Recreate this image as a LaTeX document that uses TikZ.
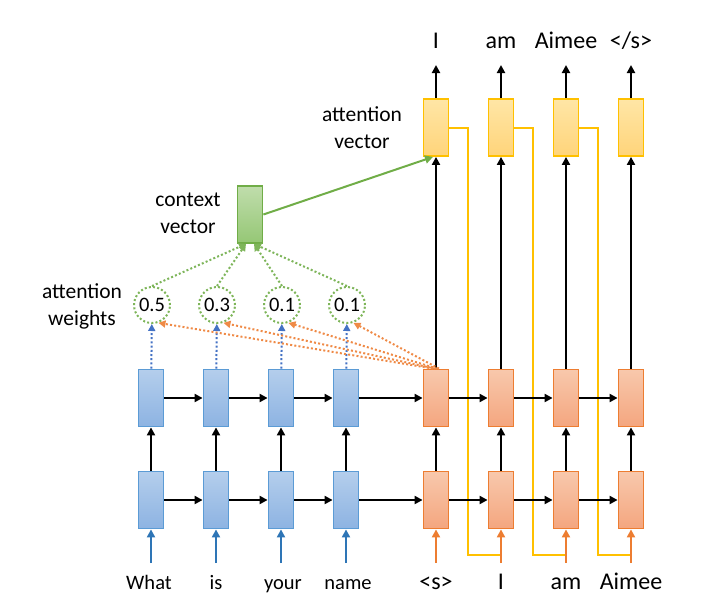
\documentclass[tikz,border=0pt]{standalone}
\usepackage{fontspec}
\setmainfont{Carlito}
\usetikzlibrary{arrows.meta}
\definecolor{bBorder}{HTML}{5B9BD5}
\definecolor{bTop}{HTML}{B4CEEC}
\definecolor{bBot}{HTML}{8DB3E2}
\definecolor{oBorder}{HTML}{ED7D31}
\definecolor{oTop}{HTML}{F8C8AC}
\definecolor{oBot}{HTML}{F4A67F}
\definecolor{yBorder}{HTML}{FFC000}
\definecolor{yTop}{HTML}{FFE6A6}
\definecolor{yBot}{HTML}{FFD47A}
\definecolor{gBorder}{HTML}{70AD47}
\definecolor{gTop}{HTML}{C0DDAC}
\definecolor{gBot}{HTML}{95C775}
\definecolor{dotBlue}{HTML}{4472C4}
\definecolor{inBlue}{HTML}{2E75B6}
\begin{document}
\begin{tikzpicture}[x=1pt,y=-1pt,
  cell/.style={rectangle,minimum width=25pt,minimum height=57pt,inner sep=0pt,line width=1.8pt},
  enc/.style={cell,draw=bBorder,top color=bTop,bottom color=bBot},
  dec/.style={cell,draw=oBorder,top color=oTop,bottom color=oBot},
  att/.style={cell,draw=yBorder,top color=yTop,bottom color=yBot},
  ctx/.style={cell,draw=gBorder,top color=gTop,bottom color=gBot},
  wcirc/.style={circle,minimum size=36pt,inner sep=0pt,draw=gBorder!90,line width=2pt,dash pattern=on 2pt off 2.2pt,font=\fontsize{20.5}{24}\selectfont},
  tip/.style={-{Triangle[length=8pt,width=8pt]}},
  blk/.style={tip,line width=2pt,black},
  inb/.style={tip,line width=2pt,inBlue},
  ino/.style={tip,line width=2pt,oBorder},
  yline/.style={line width=2pt,yBorder},
  garr/.style={tip,line width=2pt,gBorder},
  gdot/.style={-{Triangle[length=7pt,width=7pt]},line width=2pt,gBorder!90,dash pattern=on 2pt off 2.2pt},
  bdot/.style={-{Triangle[length=7pt,width=7pt]},line width=2pt,dotBlue,dash pattern=on 2pt off 2.2pt},
  odot/.style={-{Triangle[length=7pt,width=7pt]},line width=2pt,oBorder!90,dash pattern=on 2pt off 2.2pt},
  encl/.style={font=\fontsize{20.5}{24}\selectfont,anchor=base,inner sep=0pt},
  decl/.style={font=\fontsize{24}{28}\selectfont,anchor=base,inner sep=0pt},
  sidel/.style={font=\fontsize{21.5}{27}\selectfont,align=center}
]
\useasboundingbox (0,0) rectangle (721,611);

% encoder cells
\foreach \i/\x in {1/151,2/216,3/281,4/346}{
  \node[enc] (e\i t) at (\x,398) {};
  \node[enc] (e\i b) at (\x,500) {};
  \coordinate (ie\i) at (\x,563);
}
% decoder cells
\foreach \i/\x in {1/436,2/501,3/566,4/631}{
  \node[dec] (d\i t) at (\x,398) {};
  \node[dec] (d\i b) at (\x,500) {};
  \node[att] (a\i) at (\x,127.5) {};
  \coordinate (id\i) at (\x,563);
  \coordinate (j\i) at (\x,555);
  \coordinate (o\i) at (\x,65);
}
% context vector
\node[ctx] (c) at (250,214.5) {};

% attention weights
\node[wcirc] (w1) at (152,305) {0.5};
\node[wcirc] (w2) at (217,305) {0.3};
\node[wcirc] (w3) at (282,305) {0.1};
\node[wcirc] (w4) at (347,305) {0.1};

% labels
\node[encl] (l1) at (149,589) {What};
\node[encl] (l2) at (216,589) {is};
\node[encl] (l3) at (283,589) {your};
\node[encl] (l4) at (348,589) {name};
\node[decl] (l5) at (436,589) {<s>};
\node[decl] (l6) at (501,589) {I};
\node[decl] (l7) at (566,589) {am};
\node[decl] (l8) at (631,589) {Aimee};
\node[decl] (t1) at (436,48) {I};
\node[decl] (t2) at (501,48) {am};
\node[decl] (t3) at (566,48) {Aimee};
\node[decl] (t4) at (631,48) {</s>};
\node[sidel] (s1) at (362,128) {attention\\vector};
\node[sidel] (s2) at (188,213) {context\\vector};
\node[sidel] (s3) at (82,306) {attention\\weights};

% yellow feedback lines
\draw[yline] (a1.east) -- ++(19,0) |- (j2);
\draw[yline] (a2.east) -- ++(19,0) |- (j3);
\draw[yline] (a3.east) -- ++(19,0) |- (j4);

% horizontal recurrent arrows
\foreach \r in {t,b}{
  \draw[blk] (e1\r) -- (e2\r);
  \draw[blk] (e2\r) -- (e3\r);
  \draw[blk] (e3\r) -- (e4\r);
  \draw[blk] (e4\r) -- (d1\r);
  \draw[blk] (d1\r) -- (d2\r);
  \draw[blk] (d2\r) -- (d3\r);
  \draw[blk] (d3\r) -- (d4\r);
}
% vertical arrows
\foreach \i in {1,2,3,4}{
  \draw[blk] (e\i b) -- (e\i t);
  \draw[blk] (d\i b) -- (d\i t);
  \draw[blk] (d\i t) -- (a\i);
  \draw[blk] (a\i) -- (o\i);
  \draw[inb] (ie\i) -- (e\i b);
  \draw[ino] (id\i) -- (d\i b);
  \draw[bdot] (e\i t) -- (w\i);
}
% orange attention score arrows
\draw[odot] ([xshift=-3pt]d1t.north) -- (w1.-70);
\draw[odot] ([xshift=-1pt]d1t.north) -- (w2.-70);
\draw[odot] ([xshift=1pt]d1t.north) -- (w3.-70);
\draw[odot] ([xshift=3pt]d1t.north) -- (w4.-70);

% weights to context
\draw[gdot] (w1.north) -- ([xshift=-4pt]c.south);
\draw[gdot] (w2.north) -- ([xshift=-4pt]c.south);
\draw[gdot] (w3.north) -- ([xshift=4pt]c.south);
\draw[gdot] (w4.north) -- ([xshift=4pt]c.south);

% context to attention vector
\draw[garr] (c.east) -- ([xshift=-3pt]a1.south);
\end{tikzpicture}
\end{document}
